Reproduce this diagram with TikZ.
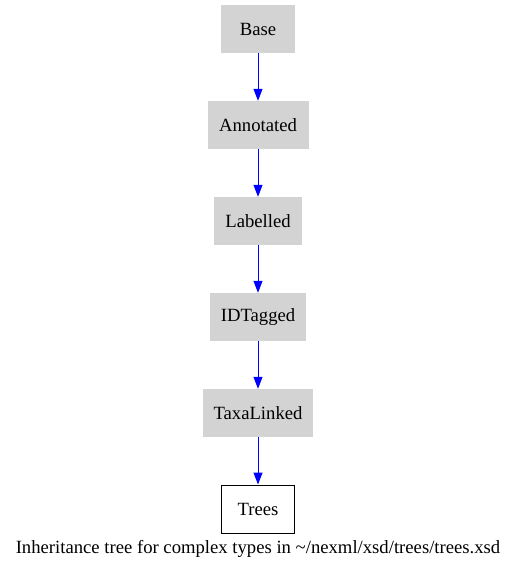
\documentclass[tikz,border=0pt]{standalone}
\usepackage{fontspec}
\setmainfont{Liberation Serif}
\usetikzlibrary{arrows.meta}
\begin{document}
\begin{tikzpicture}[x=1pt,y=-1pt,
  txt/.style={font=\fontsize{18.67pt}{21pt}\selectfont},
  cls/.style={txt, fill={rgb,255:red,211;green,211;blue,211}, draw=none, minimum height=48pt, inner sep=0pt},
  leaf/.style={txt, draw=black, line width=1pt, fill=white, minimum height=48pt, inner sep=0pt},
  inh/.style={draw={rgb,255:red,0;green,0;blue,255}, line width=1pt, -{Triangle[length=12pt,width=9pt]}}
]
\useasboundingbox (0,0) rectangle (516,568);
\node[cls, minimum width=74pt] (base) at (258,29) {Base};
\node[cls, minimum width=101pt] (annot) at (258,125) {Annotated};
\node[cls, minimum width=88pt] (lab) at (258,221) {Labelled};
\node[cls, minimum width=96pt] (idt) at (258,317) {IDTagged};
\node[cls, minimum width=110pt] (taxa) at (258,413) {TaxaLinked};
\node[leaf, minimum width=73pt] (trees) at (258,509) {Trees};
\draw[inh] (base) -- (annot);
\draw[inh] (annot) -- (lab);
\draw[inh] (lab) -- (idt);
\draw[inh] (idt) -- (taxa);
\draw[inh] (taxa) -- (trees);
\node[txt, inner sep=0pt] (cap) at (258,549) {Inheritance tree for complex types in \textasciitilde/nexml/xsd/trees/trees.xsd};
\end{tikzpicture}
\end{document}
